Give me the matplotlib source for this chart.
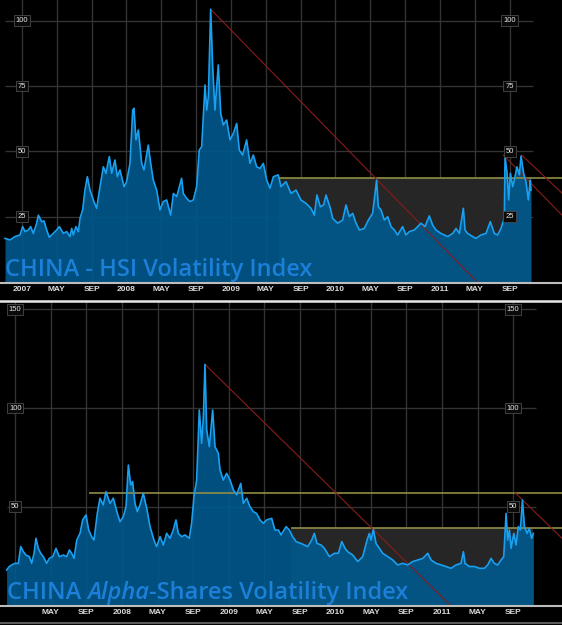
import matplotlib.pyplot as plt
from matplotlib.lines import Line2D
import numpy as np

# values, x in decimal years
hsi_t = [2006.838, 2006.886, 2006.934, 2006.981, 2007.007, 2007.029, 2007.061, 2007.083, 2007.109, 2007.141,
         2007.157, 2007.189, 2007.211, 2007.237, 2007.262, 2007.300, 2007.332, 2007.358, 2007.396, 2007.428,
         2007.460, 2007.476, 2007.492, 2007.517, 2007.540, 2007.556, 2007.581, 2007.603, 2007.626, 2007.651,
         2007.683, 2007.715, 2007.747, 2007.779, 2007.804, 2007.836, 2007.859, 2007.890, 2007.913, 2007.938,
         2007.977, 2008.002, 2008.034, 2008.060, 2008.072, 2008.091, 2008.114, 2008.146, 2008.168, 2008.209,
         2008.232, 2008.257, 2008.289, 2008.321, 2008.353, 2008.385, 2008.423, 2008.449, 2008.481, 2008.528,
         2008.544, 2008.576, 2008.608, 2008.640, 2008.672, 2008.697, 2008.720, 2008.752, 2008.768, 2008.784,
         2008.806, 2008.825, 2008.847, 2008.879, 2008.902, 2008.927, 2008.959, 2008.991, 2009.023, 2009.055,
         2009.080, 2009.112, 2009.150, 2009.182, 2009.214, 2009.246, 2009.278, 2009.310, 2009.342, 2009.374,
         2009.406, 2009.453, 2009.479,
         2009.527, 2009.575, 2009.623, 2009.670, 2009.718, 2009.766, 2009.798, 2009.823, 2009.855, 2009.887,
         2009.910, 2009.951, 2009.973, 2010.021, 2010.069, 2010.101, 2010.133, 2010.165, 2010.197, 2010.229,
         2010.276, 2010.315, 2010.356, 2010.394, 2010.410, 2010.436, 2010.468, 2010.500, 2010.532, 2010.564,
         2010.595, 2010.643, 2010.675, 2010.707, 2010.755, 2010.819, 2010.857, 2010.898, 2010.930, 2010.962,
         2011.010, 2011.042, 2011.074, 2011.122, 2011.154, 2011.186, 2011.224, 2011.240, 2011.265, 2011.313,
         2011.345, 2011.393, 2011.441, 2011.482, 2011.520, 2011.552, 2011.584, 2011.610, 2011.617, 2011.623,
         2011.642, 2011.658, 2011.674, 2011.696, 2011.712, 2011.737, 2011.760, 2011.776, 2011.801, 2011.823,
         2011.846, 2011.865, 2011.871]
hsi_v = [16.7, 16.1, 17.4, 18.0, 21.2, 19.3, 19.9, 21.2, 18.6, 22.5,
         25.6, 23.1, 23.4, 19.9, 17.1, 18.6, 19.9, 21.2, 18.6, 19.3,
         17.4, 20.5, 18.0, 21.2, 19.3, 24.4, 27.6, 35.2, 40.3, 35.2,
         31.4, 28.2, 36.5, 44.1, 41.6, 48.0, 41.6, 46.7, 40.3, 42.9,
         36.5, 38.4, 45.4, 65.8, 66.5, 54.4, 58.2, 45.4, 42.9, 52.4,
         45.4, 39.0, 35.2, 27.6, 30.8, 31.4, 25.6, 33.9, 32.7, 39.7,
         33.9, 32.0, 30.8, 31.4, 36.5, 50.5, 51.8, 75.4, 65.8, 70.9,
         104.4, 82.4, 65.8, 83.1, 64.6, 60.1, 62.0, 54.4, 56.9, 60.7,
         50.5, 48.6, 54.4, 45.4, 48.6, 44.1, 43.5, 45.4, 39.0, 35.9,
         40.3, 41.0, 36.5,
         38.4, 33.9, 35.2, 31.4, 30.1, 28.2, 25.6, 33.3, 28.8, 29.5,
         33.3, 28.2, 24.4, 22.5, 23.7, 29.5, 25.0, 26.3, 22.5, 19.9,
         20.5, 23.7, 26.3, 39.0, 28.8, 27.6, 23.7, 25.0, 21.2, 19.9,
         18.0, 21.2, 18.0, 19.3, 19.9, 22.5, 21.2, 25.3, 21.8, 19.9,
         18.6, 18.0, 17.4, 18.6, 20.5, 18.6, 28.2, 19.9, 18.6, 17.4,
         16.7, 18.0, 18.6, 23.1, 18.6, 18.0, 20.5, 23.7, 27.0, 48.0,
         41.6, 31.4, 41.6, 36.5, 39.0, 44.1, 41.0, 48.2, 41.6, 38.4,
         31.4, 39.0, 35.2]

alpha_t = [2006.919, 2006.944, 2006.966, 2006.998, 2007.029, 2007.051, 2007.076, 2007.101, 2007.132, 2007.154,
           2007.176, 2007.194, 2007.216, 2007.238, 2007.263, 2007.294, 2007.319, 2007.351, 2007.382, 2007.413,
           2007.451, 2007.482, 2007.507, 2007.529, 2007.551, 2007.576, 2007.607, 2007.632, 2007.663, 2007.688,
           2007.716, 2007.738, 2007.769, 2007.794, 2007.825, 2007.850, 2007.888, 2007.919, 2007.957, 2007.982,
           2008.013, 2008.038, 2008.060, 2008.082, 2008.100, 2008.122, 2008.144, 2008.169, 2008.200, 2008.232,
           2008.263, 2008.300, 2008.325, 2008.357, 2008.388, 2008.419, 2008.450, 2008.481, 2008.506, 2008.528,
           2008.560, 2008.591, 2008.631, 2008.653, 2008.675, 2008.700, 2008.725, 2008.747, 2008.763, 2008.778,
           2008.794, 2008.819, 2008.850, 2008.872, 2008.903, 2008.919, 2008.950, 2008.981, 2009.013, 2009.044,
           2009.075, 2009.113, 2009.138, 2009.169, 2009.200, 2009.231, 2009.262, 2009.294, 2009.325, 2009.356,
           2009.403, 2009.434, 2009.466, 2009.491,
           2009.538, 2009.569, 2009.600, 2009.632, 2009.678, 2009.710, 2009.741, 2009.778, 2009.803, 2009.828,
           2009.866, 2009.897, 2009.944, 2009.991, 2010.028, 2010.060, 2010.091, 2010.116, 2010.163, 2010.210,
           2010.256, 2010.297, 2010.319, 2010.334, 2010.356, 2010.381, 2010.413, 2010.444, 2010.491, 2010.538,
           2010.584, 2010.631, 2010.678, 2010.725, 2010.772, 2010.819, 2010.866, 2010.897, 2010.944, 2010.991,
           2011.037, 2011.084, 2011.131, 2011.178, 2011.200, 2011.215, 2011.256, 2011.303, 2011.350, 2011.397,
           2011.428, 2011.459, 2011.490, 2011.522, 2011.553, 2011.578, 2011.600, 2011.615, 2011.631, 2011.647,
           2011.672, 2011.693, 2011.715, 2011.734, 2011.753, 2011.772, 2011.797, 2011.818, 2011.840, 2011.856]
alpha_v = [17.9, 19.7, 20.5, 21.3, 21.3, 29.8, 27.2, 25.5, 24.7, 21.3,
           26.4, 34.0, 28.9, 26.4, 24.7, 21.3, 23.8, 24.7, 28.9, 24.7,
           25.5, 24.7, 28.1, 26.4, 23.8, 33.1, 36.5, 43.3, 45.8, 38.2,
           34.8, 33.1, 46.6, 54.3, 50.9, 57.6, 51.7, 54.3, 46.6, 42.4,
           45.0, 50.0, 71.1, 61.0, 62.7, 51.7, 47.5, 50.9, 56.8, 49.2,
           39.9, 33.1, 29.8, 34.8, 30.6, 36.5, 34.0, 38.2, 43.3, 36.5,
           34.8, 35.7, 34.0, 41.6, 55.1, 63.5, 99.0, 82.1, 95.6, 122.1,
           88.9, 80.4, 99.0, 80.4, 77.1, 68.6, 63.5, 66.9, 63.5, 58.5,
           56.0, 61.8, 51.7, 54.3, 50.0, 47.5, 46.6, 43.3, 41.6, 43.3,
           44.1, 38.2, 38.2, 35.7,
           39.9, 38.2, 34.8, 32.3, 31.4, 30.6, 29.8, 33.1, 36.5, 31.4,
           30.6, 28.9, 24.7, 26.4, 26.4, 32.3, 28.9, 27.2, 25.5, 22.2,
           24.7, 33.1, 36.5, 33.1, 38.5, 31.4, 28.9, 26.4, 24.7, 23.0,
           20.5, 21.3, 20.5, 22.2, 23.0, 23.8, 26.4, 23.0, 21.3, 20.5,
           19.7, 18.8, 20.5, 21.3, 27.2, 21.3, 19.7, 19.7, 18.8, 18.8,
           20.5, 23.8, 21.3, 20.5, 23.0, 24.7, 46.6, 33.1, 38.2, 28.9,
           36.5, 30.6, 39.9, 38.2, 53.4, 39.9, 36.5, 39.0, 34.0, 36.5]

# ticks
tick_years = [2007, 2008, 2009, 2010, 2011]
month_names = ['MAY', 'SEP']
tick_pos, tick_lab = [], []
for yr in tick_years:
    tick_pos += [yr, yr + 4 / 12, yr + 8 / 12]
    tick_lab += [str(yr)] + month_names

hsi_yticks = [25, 50, 75, 100]
alpha_yticks = [50, 100, 150]

# support levels (yellow) and trend lines (red)
hsi_levels = [(40.0, 2009.46)]
hsi_box = (2009.46, 2011.871, 40.0)
hsi_trends = [((2008.806, 104.4), (2011.364, -0.4)),
              ((2011.606, 48.6), (2012.168, 25.6)),
              ((2011.782, 48.6), (2012.168, 34.0))]

alpha_levels = [(57.1, 2007.691), (39.2, 2009.584)]
alpha_box = (2009.584, 2011.856, 39.2)
alpha_trends = [((2008.778, 122.1), (2011.084, -0.3)),
                ((2011.684, 57.1), (2012.124, 34.0))]

FILL = '#00598e'
LINE = '#1aa0f0'
GRID = '#333333'
TITLE = '#1c7fd8'
TICKFONT = ['Liberation Sans', 'DejaVu Sans']


def draw_panel(ax, t, v, xlim, ylim, yticks, levels, box, trends, label_show):
    ax.set_facecolor('black')
    ax.set_xlim(*xlim)
    ax.set_ylim(*ylim)

    # grid
    for p in tick_pos:
        ax.axvline(p, color=GRID, lw=1, zorder=0)
    ax.hlines(yticks, t[0], t[-1] + 0.02, color=GRID, lw=1, zorder=0)

    # shaded range box
    ax.fill_between([box[0], box[1]], 0, box[2], color='#262626', lw=0, zorder=1)

    ax.fill_between(t, v, 0, color=FILL, alpha=0.9, lw=0, zorder=2)
    for lev, start in levels:
        ax.hlines(lev, start, xlim[1], color='#8f8d45', lw=1.2, zorder=2.5)
    for (x0, y0), (x1, y1) in trends:
        ax.plot([x0, x1], [y0, y1], color='#8a1c1c', lw=0.8, zorder=2.5)
    ax.plot(t, v, color=LINE, lw=1.2, zorder=3)

    # boxed value labels on the first and last gridline
    for xl in [2007.0, 2011 + 8 / 12]:
        for yv in yticks:
            ax.text(xl, yv, str(yv), ha='center', va='center', fontsize=5.5,
                    color='#e6e6e6', family=TICKFONT, zorder=6,
                    bbox=dict(boxstyle='square,pad=0.25', fc='#0a0a0a', ec='#4a4a4a', lw=0.6))

    ax.set_yticks([])
    ax.set_xticks([p for p, s in zip(tick_pos, label_show) if s])
    ax.set_xticklabels([l for l, s in zip(tick_lab, label_show) if s],
                       fontsize=6, fontweight='bold', color='#dcdcdc', family=TICKFONT)
    ax.tick_params(axis='x', length=0, pad=2.3)
    for side in ['top', 'left', 'right']:
        ax.spines[side].set_visible(False)
    ax.spines['bottom'].set_color('#bdbdbd')
    ax.spines['bottom'].set_linewidth(1.5)


fig = plt.figure(figsize=(5.62, 6.25), dpi=100, facecolor='black')

tf = dict(fontsize=17, fontweight='semibold', family=['Open Sans', 'DejaVu Sans'],
          color=TITLE, zorder=7)

ax1 = fig.add_axes([0, 1 - 283 / 625, 1, 283 / 625])
draw_panel(ax1, hsi_t, hsi_v, (2006.79, 2012.168), (-0.38, 107.95), hsi_yticks,
           hsi_levels, hsi_box, hsi_trends, [True] * len(tick_pos))
ax1.text(5 / 562, 7 / 283, 'CHINA - HSI Volatility Index', transform=ax1.transAxes,
         va='baseline', ha='left', **tf)

ax2 = fig.add_axes([0, 1 - 606 / 625, 1, 304 / 625])
draw_panel(ax2, alpha_t, alpha_v, (2006.857, 2012.124), (-0.3, 153.7), alpha_yticks,
           alpha_levels, alpha_box, alpha_trends, [False] + [True] * (len(tick_pos) - 1))
t1 = ax2.text(7 / 562, 7 / 304, 'CHINA ', transform=ax2.transAxes,
              va='baseline', ha='left', **tf)
t2 = ax2.annotate('Alpha', xy=(1, 0), xycoords=t1, va='bottom', ha='left', style='italic', **tf)
ax2.annotate('-Shares Volatility Index', xy=(1, 0), xycoords=t2, va='bottom', ha='left', **tf)

# separators between the panels
fig.add_artist(Line2D([0, 1], [1 - 301 / 625] * 2, color='#e8e8e8', lw=1.8))
fig.add_artist(Line2D([0, 1], [1 - 623 / 625] * 2, color='#5a5a5a', lw=1.5))

fig.savefig('out.png', dpi=100, facecolor='black')
